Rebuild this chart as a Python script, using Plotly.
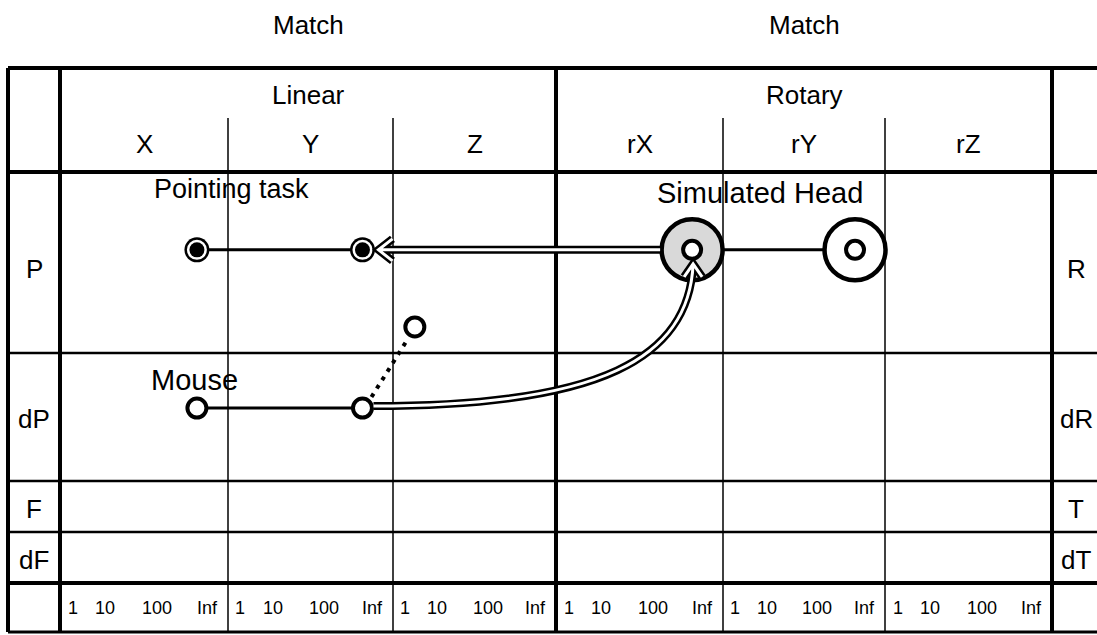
import plotly.graph_objects as go

# ---------------- data ----------------
group_titles = ["Match", "Match"]
groups = ["Linear", "Rotary"]
columns = ["X", "Y", "Z", "rX", "rY", "rZ"]
left_rows = ["P", "dP", "F", "dF"]
right_rows = ["R", "dR", "T", "dT"]
scale_ticks = ["1", "10", "100", "Inf"]

pointing_cols = ["X", "Y"]      # Pointing task: linear position X, Y
pointing_row = "P"
mouse_cols = ["X", "Y"]         # Mouse: linear movement dX, dY
mouse_row = "dP"
head_cols = ["rX", "rY"]        # Simulated head: rotary position rX, rY
head_row = "P"
node_resolution = "Inf"
button_col = "Z"                # mouse button
button_resolution = "1"

# ---------------- layout geometry (pixels) ----------------
W, H = 1097, 635
col_edges = [60, 228, 393, 556, 723, 885, 1052]
row_edges = [172, 353, 481, 532, 583]
left_edge, right_edge = 8, 1104
top_edge, sub_top, bottom_edge = 68, 118, 632
group_edges = [(0, 3), (3, 6)]
res_frac = {"1": 0.134, "10": 0.3, "100": 0.6, "Inf": 0.815}
tick_frac = [0.075, 0.27, 0.58, 0.875]
node_row_frac = 0.43
FONT = "Liberation Sans, Arial, sans-serif"
HEAD_SIZE = 26


def cx(col, res):
    i = columns.index(col)
    return col_edges[i] + res_frac[res] * (col_edges[i + 1] - col_edges[i])


def cy(row, frac=node_row_frac):
    i = left_rows.index(row)
    return row_edges[i] + frac * (row_edges[i + 1] - row_edges[i])


shapes = []
annotations = []


def hline(y, x0, x1, w):
    shapes.append(dict(type="line", x0=x0, x1=x1, y0=y, y1=y, xref="x", yref="y",
                       line=dict(color="black", width=w), layer="below"))


def vline(x, y0, y1, w):
    shapes.append(dict(type="line", x0=x, x1=x, y0=y0, y1=y1, xref="x", yref="y",
                       line=dict(color="black", width=w), layer="below"))


def text(x, y, s, size=HEAD_SIZE, **kw):
    annotations.append(dict(x=x, y=y, xref="x", yref="y", text=s, showarrow=False,
                            font=dict(family=FONT, size=size, color="black"), **kw))


# grid
hline(top_edge, left_edge, right_edge, 4)
hline(row_edges[0], left_edge, right_edge, 4)
for y in row_edges[1:4]:
    hline(y, left_edge, right_edge, 2.5)
hline(row_edges[4], left_edge, right_edge, 4)
hline(bottom_edge, left_edge, right_edge, 3)
for x in [left_edge, col_edges[0], col_edges[3], col_edges[6]]:
    vline(x, top_edge, bottom_edge, 4)
for i in [1, 2, 4, 5]:
    vline(col_edges[i], sub_top, bottom_edge, 1.5)

# header texts
for (a, b), g, t in zip(group_edges, groups, group_titles):
    xc = (col_edges[a] + col_edges[b]) / 2
    text(xc, 25, t)
    text(xc, 95, g)
for i, c in enumerate(columns):
    text((col_edges[i] + col_edges[i + 1]) / 2, 144, c)

# row labels
lx = (left_edge + col_edges[0]) / 2
rx = col_edges[6] + 24
for i, (l, r) in enumerate(zip(left_rows, right_rows)):
    yc = (row_edges[i] + row_edges[i + 1]) / 2 + (6 if i == 0 else 2)
    text(lx, yc, l)
    text(rx, yc, r)

# scale ticks
yb = (row_edges[4] + bottom_edge) / 2
for i in range(len(columns)):
    for t, f in zip(scale_ticks, tick_frac):
        text(col_edges[i] + f * (col_edges[i + 1] - col_edges[i]), yb, t, size=18)

fig = go.Figure()

# connection lines between nodes
for cols, row in [(pointing_cols, pointing_row), (mouse_cols, mouse_row), (head_cols, head_row)]:
    fig.add_trace(go.Scatter(x=[cx(c, node_resolution) for c in cols], y=[cy(row)] * len(cols),
                             mode="lines", line=dict(color="black", width=3),
                             hoverinfo="skip", showlegend=False))

# Pointing task nodes (ringed filled dots)
px = [cx(c, node_resolution) for c in pointing_cols]
py = [cy(pointing_row)] * len(px)
for size, col in [(25, "black"), (20, "white"), (15, "black")]:
    fig.add_trace(go.Scatter(x=px, y=py, mode="markers",
                             marker=dict(size=size, color=col, line=dict(width=0)),
                             hoverinfo="skip", showlegend=False))

# Mouse nodes + button (open circles)
mx = [cx(c, node_resolution) for c in mouse_cols]
my = [cy(mouse_row)] * len(mx)
bx, by = cx(button_col, button_resolution), cy(pointing_row, 0.856)
fig.add_trace(go.Scatter(x=mx + [bx], y=my + [by], mode="markers",
                         marker=dict(size=19, color="white", line=dict(color="black", width=4)),
                         hoverinfo="skip", showlegend=False))

# Simulated head nodes (big ring + inner circle)
hx = [cx(c, node_resolution) for c in head_cols]
hy = [cy(head_row)] * len(hx)
fig.add_trace(go.Scatter(x=hx, y=hy, mode="markers",
                         marker=dict(size=61, color=["#d9d9d9", "white"],
                                     line=dict(color="black", width=4.5)),
                         hoverinfo="skip", showlegend=False))
fig.add_trace(go.Scatter(x=hx, y=hy, mode="markers",
                         marker=dict(size=18, color="white", line=dict(color="black", width=4)),
                         hoverinfo="skip", showlegend=False))

# node labels
text(px[0] - 45, py[0] - 61, "Pointing task", size=27, xanchor="left")
text(mx[0] - 48, my[0] - 28, "Mouse", size=29, xanchor="left")
text(hx[0] + 68, hy[0] - 57, "Simulated Head", size=29)


# double-line connectors (composition arrows)
def double_path(path):
    for w, c in [(8, "black"), (3, "white")]:
        shapes.append(dict(type="path", path=path, xref="x", yref="y", layer="above",
                           line=dict(color=c, width=w)))


tx, ty = px[1] + 16, py[1]
hl = hx[0] - 32
double_path(f"M {hl},{ty} L {tx},{ty} M {tx + 14},{ty - 11} L {tx},{ty} L {tx + 14},{ty + 11}")

sx, sy = mx[1] + 11, my[1] - 2
ex, ey = hx[0] + 1, hy[0] + 14
double_path(f"M {sx},{sy} C {sx + 228},{sy} {ex - 4},{sy - 48} {ex},{ey} "
            f"M {ex - 9},{ey + 13} L {ex},{ey} L {ex + 9},{ey + 13}")

# dotted link from mouse to its button
shapes.append(dict(type="line", x0=mx[1] + 9, y0=my[1] - 11, x1=bx - 7, y1=by + 12,
                   xref="x", yref="y", layer="above",
                   line=dict(color="black", width=4, dash="4px,6px")))

fig.update_layout(
    width=W, height=H, margin=dict(l=0, r=0, t=0, b=0),
    paper_bgcolor="white", plot_bgcolor="white",
    xaxis=dict(range=[0, W], visible=False, fixedrange=True),
    yaxis=dict(range=[H, 0], visible=False, fixedrange=True),
    shapes=shapes, annotations=annotations, showlegend=False,
)
fig.write_html("out.html", config={"displayModeBar": False},
               post_script="document.body.style.margin='0px';document.body.style.overflow='hidden';")
